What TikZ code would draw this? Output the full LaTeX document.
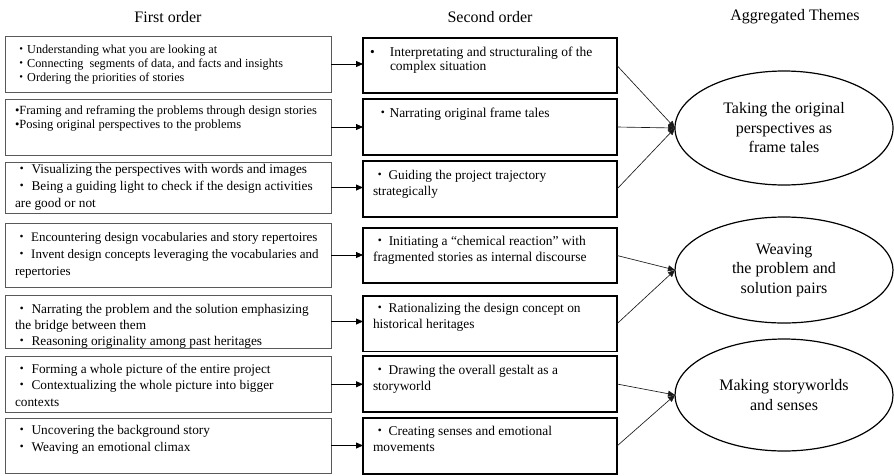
\documentclass[tikz,border=0pt]{standalone}
\usepackage{fontspec}
\setmainfont{Liberation Serif}
\newfontfamily\cjk{Noto Sans CJK JP}
\usetikzlibrary{arrows.meta,shapes.geometric}
\newcommand\kd{{\cjk ・}}
\newcommand\bx[6]{\parbox[c][#2][t]{#1}{\fontsize{#3}{#4}\selectfont\raggedright\vspace*{#5}\strut#6}}
\begin{document}
\begin{tikzpicture}[x=1pt,y=-1pt,
  lbox/.style={draw=black!65, line width=0.8pt, anchor=north west, inner xsep=10pt, inner ysep=0pt, outer sep=0pt},
  mbox/.style={draw=black, line width=1.2pt, anchor=north west, inner xsep=10pt, inner ysep=0pt, outer sep=0pt},
  ell/.style={draw=black, line width=1.2pt, ellipse, minimum width=218pt, inner sep=0pt, outer sep=0pt, align=center, font=\fontsize{16}{19.5}\selectfont},
  head/.style={font=\fontsize{16}{18}\selectfont, inner sep=0pt},
  arr/.style={draw=black, line width=0.8pt, -{Triangle[length=7pt,width=6pt]}},
  earr/.style={draw=black!90, line width=0.65pt, -{Triangle[length=7pt,width=6pt]}}
]
\useasboundingbox (0,0) rectangle (894,475);

% headers
\node[head] (h1) at (168,17) {First order};
\node[head] (h2) at (490,17) {Second order};
\node[head] (h3) at (795,17) {Aggregated Themes};

% first order boxes
\node[lbox] (l1) at (5,36) {\bx{306pt}{56pt}{12.2}{14.2}{7.4pt}{\mbox{\kd Understanding what you are looking at}\\\mbox{\kd Connecting\ \ segments of data, and facts and insights}\\\mbox{\kd Ordering the priorities of stories}}};
\node[lbox] (l2) at (5,99) {\bx{306pt}{56pt}{12.5}{13.5}{6.2pt}{\mbox{\textbullet Framing and reframing the problems through design stories}\\\mbox{\textbullet Posing original perspectives to the problems}}};
\node[lbox] (l3) at (5,162) {\bx{306pt}{51pt}{13.3}{16.7}{0pt}{\mbox{\kd\ Visualizing the perspectives with words and images}\\\mbox{\kd\ Being a guiding light to check if the design activities}\\\mbox{are good or not}}};
\node[lbox] (l4) at (5,223) {\bx{306pt}{64pt}{13}{16.7}{7.3pt}{\mbox{\kd\ Encountering design vocabularies and story repertoires}\\\mbox{\kd\ Invent design concepts leveraging the vocabularies and}\\\mbox{repertories}}};
\node[lbox] (l5) at (5,295) {\bx{306pt}{53pt}{13.3}{16.3}{6.6pt}{\mbox{\kd\ Narrating the problem and the solution emphasizing}\\\mbox{the bridge between them}\\\mbox{\kd\ Reasoning originality among past heritages}}};
\node[lbox] (l6) at (5,356) {\bx{306pt}{56.5pt}{13.3}{16.5}{5.6pt}{\mbox{\kd\ Forming a whole picture of the entire project}\\\mbox{\kd\ Contextualizing the whole picture into bigger}\\\mbox{contexts}}};
\node[lbox] (l7) at (5,418) {\bx{306pt}{55pt}{13.3}{16.7}{5pt}{\mbox{\kd\ Uncovering the background story}\\\mbox{\kd\ Weaving an emotional climax}}};

% second order boxes
\node[mbox] (m1) at (363,38) {\bx{234pt}{55pt}{13.5}{14}{8.6pt}{\mbox{\hspace*{-3pt}\makebox[20pt][l]{\textbullet}Interpretating and structuraling of the}\\\mbox{\hspace*{17pt}complex situation}}};
\node[mbox] (m2) at (363,99) {\bx{234pt}{56pt}{13.5}{16}{6.8pt}{\mbox{\hspace*{3pt}\kd Narrating original frame tales}}};
\node[mbox] (m3) at (363,161) {\bx{234pt}{56pt}{13.3}{16}{7.1pt}{\mbox{\kd\,Guiding the project trajectory}\\\mbox{strategically}}};
\node[mbox] (m4) at (363,228) {\bx{234pt}{55pt}{13.5}{15.7}{6.7pt}{\mbox{\kd\,Initiating a ``chemical reaction'' with}\\\mbox{fragmented stories as internal discourse}}};
\node[mbox] (m5) at (363,296) {\bx{234pt}{55.5pt}{13.4}{15.7}{5.7pt}{\mbox{\kd\,Rationalizing the design concept on}\\\mbox{historical heritages}}};
\node[mbox] (m6) at (363,356) {\bx{234pt}{56pt}{13.4}{16}{7pt}{\mbox{\kd\,Drawing the overall gestalt as a}\\\mbox{storyworld}}};
\node[mbox] (m7) at (363,418) {\bx{234pt}{56pt}{13.4}{16}{6.3pt}{\mbox{\kd\,Creating senses and emotional}\\\mbox{movements}}};

% aggregated themes
\node[ell, minimum height=114pt] (e1) at (784,128) {Taking the original\\perspectives as\\frame tales};
\node[ell, minimum height=106pt] (e2) at (784,270) {Weaving\\the problem and\\solution pairs};
\node[ell, minimum height=112pt] (e3) at (784,395) {Making storyworlds\\and senses};

% first -> second
\foreach \i in {1,...,7} {
  \draw[arr] (l\i.east) -- (l\i.east -| m\i.west);
}

% second -> themes
\draw[earr] (m1.east) -- (e1.west);
\draw[earr] (m2.east) -- (e1.west);
\draw[earr] (m3.east) -- (e1.west);
\draw[earr] (m4.east) -- (e2.west);
\draw[earr] (m5.east) -- (e2.west);
\draw[earr] (m6.east) -- (e3.west);
\draw[earr] (m7.east) -- (e3.west);
\end{tikzpicture}
\end{document}
